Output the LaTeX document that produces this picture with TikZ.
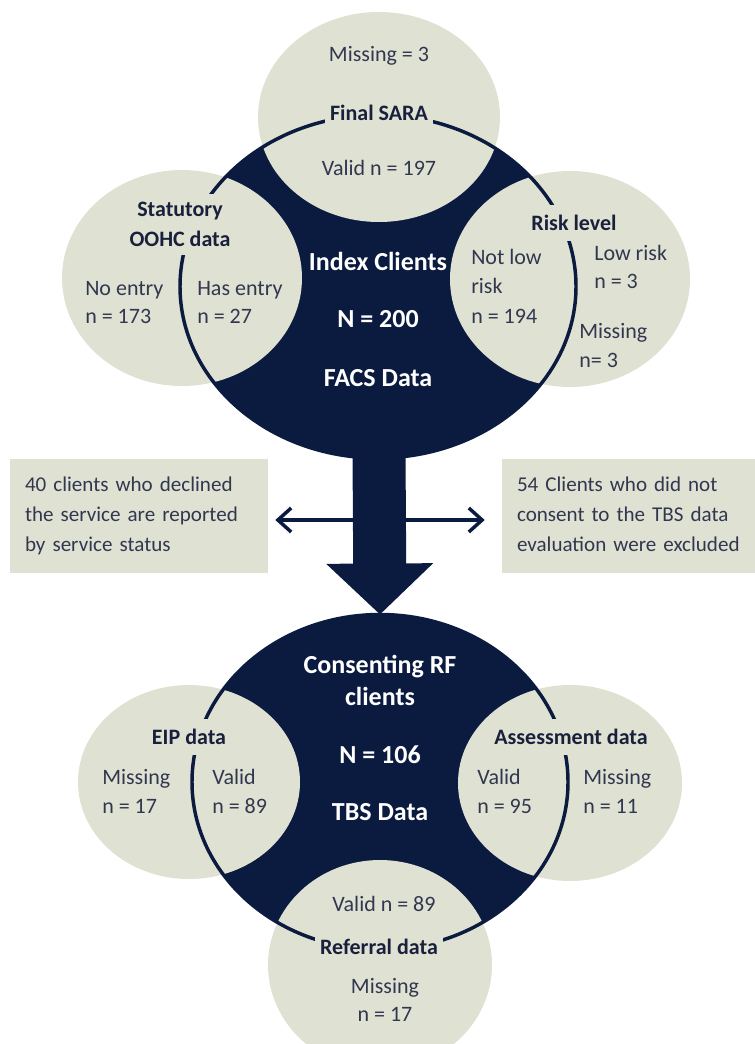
\documentclass[tikz,border=0pt]{standalone}
\usepackage{fontspec}
\setmainfont{Carlito}
\usetikzlibrary{shapes.geometric,arrows.meta,calc}
\definecolor{navy}{HTML}{0B1B40}
\definecolor{sage}{HTML}{DFE2D2}
\definecolor{txtc}{RGB}{50,55,80}
\definecolor{lblc}{RGB}{25,32,60}
\begin{document}
\begin{tikzpicture}[x=0.75pt,y=-0.75pt,
  darkc/.style={ellipse, fill=navy, inner sep=0pt, outer sep=0pt},
  sat/.style={ellipse, fill=sage, inner sep=0pt, outer sep=0pt},
  ring/.style={ellipse, draw=navy, line width=2.6pt, inner sep=0pt, outer sep=0pt},
  lbl/.style={fill=sage, text=lblc, font=\fontsize{16.5}{22.2}\selectfont\bfseries, inner xsep=4pt, inner ysep=8pt, align=center},
  txt/.style={text=txtc, font=\fontsize{16.5}{22.2}\selectfont, inner sep=0pt, anchor=base west},
  ctxt/.style={txt, anchor=base},
  ttl/.style={text=white, font=\fontsize{19.5}{24}\selectfont\bfseries, inner sep=0pt, anchor=base},
  infobox/.style={fill=sage, text=txtc, font=\fontsize{15.8}{22.4}\selectfont, minimum width=193.5pt, minimum height=85.5pt, text width=171pt, align=left, inner sep=0pt},
  bigarrow/.style={navy, line width=39.75pt, -{Triangle[width=78pt,length=38.25pt]}},
  twoway/.style={navy, line width=2.6pt, {Straight Barb[length=10pt,width=18pt]}-{Straight Barb[length=10pt,width=18pt]}}
]
\useasboundingbox (0,0) rectangle (755,1044);
% main circles
\node[darkc, minimum width=297pt, minimum height=257.25pt] (topc) at (378,286.5) {};
\node[darkc, minimum width=282pt, minimum height=251.25pt] (botc) at (380,782) {};
\draw[bigarrow] (topc.center) -- (botc.north);
% satellites
\node[sat, minimum width=181.5pt, minimum height=157.5pt] (sara) at (379,117) {};
\node[sat, minimum width=180pt, minimum height=162pt] (oohc) at (182,278) {};
\node[sat, minimum width=180pt, minimum height=162pt] (risk) at (570,279) {};
\node[sat, minimum width=166.5pt, minimum height=145.5pt] (eip) at (189,782) {};
\node[sat, minimum width=168pt, minimum height=147pt] (assess) at (570,783) {};
\node[sat, minimum width=168pt, minimum height=157.5pt] (refer) at (380,965) {};
% outlines of main circles
\node[ring, minimum width=297pt, minimum height=257.25pt] (topring) at (topc.center) {};
\node[ring, minimum width=282pt, minimum height=251.25pt] (botring) at (botc.center) {};
% satellite labels
\node[lbl] (saralbl) at (379,113) {Final SARA};
\node[lbl, inner ysep=6pt] (oohclbl) at (180,224.5) {Statutory\\OOHC data};
\node[lbl] (risklbl) at (574,223) {Risk level};
\node[lbl] (eiplbl) at (189,737) {EIP data};
\node[lbl] (assesslbl) at (571,737) {Assessment data};
\node[lbl] (referlbl) at (379,947) {Referral data};
% top group texts
\node[ctxt] (saramiss) at (379,62) {Missing = 3};
\node[ctxt] (saravalid) at (379,176) {Valid n = 197};
\node[txt] (noentry) at (85,296) {No entry};
\node[txt] (noentryn) at (85,324) {n = 173};
\node[txt] (hasentry) at (197,296) {Has entry};
\node[txt] (hasentryn) at (197,324) {n = 27};
\node[ttl] (index) at (378,271) {Index Clients};
\node[ttl] (n200) at (378,328) {N = 200};
\node[ttl] (facs) at (378,386) {FACS Data};
\node[txt] (notlow1) at (471,265) {Not low};
\node[txt] (notlow2) at (471,294) {risk};
\node[txt] (notlow3) at (471,324) {n = 194};
\node[txt] (low1) at (594,261) {Low risk};
\node[txt] (low2) at (594,289) {n = 3};
\node[txt] (rmiss1) at (579,339) {Missing};
\node[txt] (rmiss2) at (579,368) {n= 3};
% side boxes
\node[infobox] (lbox) at (139,516) {40 clients who declined\\the service are reported\\by service status};
\node[infobox] (rbox) at (631,516) {54 Clients who did not\\consent to the TBS data\\evaluation were excluded\vphantom{y}};
\draw[twoway] ($(lbox.east)+(7,4)$) -- ($(rbox.west)+(-17,4)$);
% bottom group texts
\node[ttl] (consent1) at (380,673) {Consenting RF};
\node[ttl] (consent2) at (380,705) {clients};
\node[ttl] (n106) at (380,763) {N = 106};
\node[ttl] (tbs) at (380,820) {TBS Data};
\node[txt] (eipmiss1) at (102,784) {Missing};
\node[txt] (eipmiss2) at (102,813) {n = 17};
\node[txt] (eipval1) at (212,784) {Valid};
\node[txt] (eipval2) at (212,813) {n = 89};
\node[txt] (asval1) at (477,784) {Valid};
\node[txt] (asval2) at (477,813) {n = 95};
\node[txt] (asmiss1) at (583,784) {Missing};
\node[txt] (asmiss2) at (583,813) {n = 11};
\node[ctxt] (refval) at (384,911) {Valid n = 89};
\node[ctxt] (refmiss1) at (385,993) {Missing};
\node[ctxt] (refmiss2) at (385,1021) {n = 17};
\end{tikzpicture}
\end{document}
